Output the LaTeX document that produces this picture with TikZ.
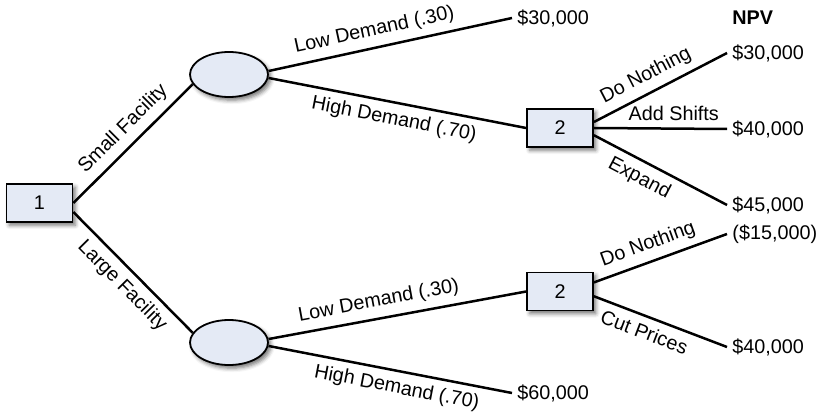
\documentclass[tikz,border=0pt]{standalone}
\usepackage{fontspec}
\setmainfont{Liberation Sans}
\usetikzlibrary{shapes.geometric, shadows.blur}
\definecolor{nodefill}{RGB}{228,234,245}

\begin{document}
\begin{tikzpicture}[
    x=0.5pt, y=-0.5pt,
    font=\fontsize{9.9}{11.8}\selectfont,
    decision/.style={rectangle, draw, line width=0.9pt, fill=nodefill,
                     minimum width=33pt, minimum height=19pt,
                     blur shadow={shadow xshift=1.4pt, shadow yshift=-1.6pt,
                                  shadow blur radius=2pt, shadow opacity=55}},
    chance/.style={ellipse, draw, line width=0.9pt, fill=nodefill,
                   minimum width=39pt, minimum height=22.5pt,
                   blur shadow={shadow xshift=1.4pt, shadow yshift=-1.6pt,
                                shadow blur radius=2pt, shadow opacity=55}},
    payoff/.style={anchor=west, inner sep=2.5pt},
    branch/.style={line width=1.25pt}
]
  \useasboundingbox (0,0) rectangle (822,416);

  % decision and chance nodes
  \node[decision] (d1) at (39.5,203) {1};
  \node[chance] (small) at (229,74.5) {};
  \node[chance] (large) at (229,342.5) {};
  \node[decision] (d2s) at (560,128) {2};
  \node[decision] (d2l) at (560,291.5) {2};

  % end values
  \node[payoff] (v1) at (512,18) {\$30,000};
  \node[payoff] (npv) at (727,18) {\textbf{NPV}};
  \node[payoff] (v2) at (727,53) {\$30,000};
  \node[payoff] (v3) at (727,129) {\$40,000};
  \node[payoff] (v4) at (727,205) {\$45,000};
  \node[payoff] (v5) at (727,234) {(\$15,000)};
  \node[payoff] (v6) at (727,347) {\$40,000};
  \node[payoff] (v7) at (512,393) {\$60,000};

  % branches
  \draw[branch] (d1.east) -- node[above, sloped, pos=0.52] {Small Facility} (small.195);
  \draw[branch] (d1.-15) -- node[below, sloped, pos=0.51] {Large Facility} (large.165);

  \draw[branch] (small.5) -- node[above, sloped, pos=0.45] {Low Demand (.30)} (v1.west);
  \draw[branch] (small.-5) -- node[below, sloped] {High Demand (.70)} (d2s.west);
  \draw[branch] (large.5) -- node[above, sloped, pos=0.44] {Low Demand (.30)} (d2l.west);
  \draw[branch] (large.-5) -- node[below, sloped, pos=0.54] {High Demand (.70)} (v7.west);

  \draw[branch] (d2s.10) -- node[above, sloped, pos=0.45] {Do Nothing} (v2.west);
  \draw[branch] (d2s.east) -- node[above, pos=0.6] {Add Shifts} (v3.west);
  \draw[branch] (d2s.-12) -- node[below, sloped, pos=0.4] {Expand} (v4.west);
  \draw[branch] (d2l.15) -- node[above, sloped, pos=0.45] {Do Nothing} (v5.west);
  \draw[branch] (d2l.-8) -- node[below, sloped, pos=0.42] {Cut Prices} (v6.west);
\end{tikzpicture}
\end{document}
